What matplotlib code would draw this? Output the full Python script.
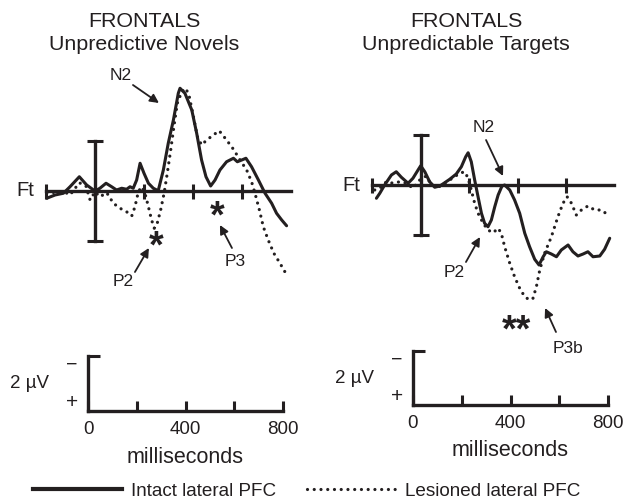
import matplotlib
matplotlib.use('Agg')
import matplotlib.pyplot as plt
from matplotlib.lines import Line2D

plt.rcParams['font.family'] = ['Liberation Sans', 'DejaVu Sans']

INK = '#231f20'

# ERP traces, time in ms, amplitude in microvolts (negative plotted up)
novel_t_intact = [-197, -163, -129, -102, -64, -34, 0, 20, 45, 68, 88, 109, 129, 143, 156, 170, 184, 200,
                  218, 238, 258, 279, 299, 320, 340, 347, 367, 395, 415, 435, 453, 472, 490, 510, 537,
                  565, 581, 599, 616, 639, 667, 694, 721, 741, 762, 782]
novel_v_intact = [0.29, 0.16, 0.09, -0.17, -0.57, -0.24, 0.0, -0.11, -0.31, -0.17, -0.04, -0.11, -0.07,
                  -0.17, -0.11, -0.44, -1.11, -0.71, -0.31, -0.11, -0.01, -0.84, -1.91, -2.84, -3.91,
                  -4.11, -3.91, -3.24, -2.31, -1.24, -0.57, -0.2, -0.44, -0.84, -1.17, -1.31, -1.17,
                  -1.24, -1.31, -0.97, -0.44, 0.09, 0.49, 0.89, 1.16, 1.39]
novel_t_lesion = [-197, -163, -122, -102, -64, -37, -20, 0, 20, 48, 75, 102, 129, 150, 163, 177, 190, 204,
                  218, 231, 242, 254, 268, 282, 295, 309, 322, 336, 354, 371, 385, 399, 418, 435, 456,
                  483, 507, 537, 565, 592, 619, 639, 653, 671, 687, 707, 730, 755, 775]
novel_v_lesion = [0.09, 0.05, 0.05, 0.16, -0.33, -0.2, 0.36, 0.03, 0.23, 0.07, 0.49, 0.69, 0.83, 1.0,
                  0.63, 0.03, -0.17, 0.09, 0.63, 1.16, 1.49, 1.29, 0.76, 0.09, -0.71, -1.64, -2.57,
                  -3.51, -3.97, -4.11, -3.77, -3.11, -2.17, -1.84, -2.04, -2.24, -2.41, -2.04, -1.67,
                  -1.24, -0.84, -0.37, 0.09, 0.76, 1.43, 1.96, 2.49, 2.89, 3.23]

target_t_intact = [-183, -169, -149, -121, -101, -80, -52, -32, -11, 0, 17, 37, 58, 79, 99, 120, 147, 168,
                   186, 196, 209, 223, 237, 251, 264, 278, 292, 306, 320, 336, 347, 368, 388, 409, 430,
                   450, 471, 489, 506, 519, 540, 561, 581, 609, 629, 650, 671, 691, 712, 740, 760, 781]
target_v_intact = [0.53, 0.33, 0.0, -0.4, -0.53, -0.31, -0.07, -0.27, -0.6, -0.77, -0.53, -0.13, 0.09,
                   0.04, -0.09, -0.23, -0.44, -0.73, -1.13, -1.29, -0.93, -0.2, 0.47, 1.13, 1.53, 1.67,
                   1.4, 0.87, 0.4, 0.04, 0.0, 0.2, 0.6, 1.13, 1.93, 2.47, 2.97, 3.2, 2.87, 2.67, 2.76,
                   2.87, 2.6, 2.4, 2.67, 2.84, 2.76, 2.67, 2.87, 2.84, 2.57, 2.13]
target_t_lesion = [-190, -169, -142, -114, -87, -59, -32, -4, 23, 44, 72, 99, 120, 140, 161, 182, 196, 209,
                   223, 237, 258, 278, 299, 320, 333, 347, 368, 388, 409, 430, 450, 464, 478, 492, 512,
                   540, 567, 588, 605, 623, 643, 664, 691, 719, 747, 774]
target_v_lesion = [0.2, 0.13, -0.13, -0.07, -0.13, -0.07, 0.13, -0.2, -0.36, 0.0, 0.09, -0.07, -0.2,
                   -0.33, -0.47, -0.53, -0.27, 0.2, 0.73, 1.13, 1.53, 1.8, 1.91, 1.73, 1.93, 2.47, 3.13,
                   3.67, 4.13, 4.47, 4.6, 4.53, 4.07, 3.4, 2.73, 2.07, 1.27, 0.73, 0.47, 0.73, 1.2, 1.0,
                   0.84, 1.0, 1.0, 1.2]

titles = ['FRONTALS\nUnpredictive Novels', 'FRONTALS\nUnpredictable Targets']
calib_ticks = [0, 200, 400, 600, 800]
calib_labels = ['0', '', '400', '', '800']

W, H = 626, 499
fig = plt.figure(figsize=(W / 100, H / 100), dpi=100)


def axes_px(x0, x1, y0, y1, ox, oy, sx, sy):
    # axes over a pixel box; (ox, oy) is the data origin, sx px/ms, sy px/uV
    ax = fig.add_axes([x0 / W, 1 - y1 / H, (x1 - x0) / W, (y1 - y0) / H])
    ax.set_xlim((x0 - ox) / sx, (x1 - ox) / sx)
    ax.set_ylim((y1 - oy) / sy, (y0 - oy) / sy)
    ax.patch.set_visible(False)
    for s in ['top', 'right']:
        ax.spines[s].set_visible(False)
    return ax


def erp_panel(ax, t1, v1, t2, v2):
    ax.plot(t1, v1, color=INK, lw=2.2, solid_capstyle='round', solid_joinstyle='round')
    ax.plot(t2, v2, color=INK, lw=2.3, linestyle=(0, (0.01, 2.1)), dash_capstyle='round')
    ax.spines['bottom'].set_position(('data', 0))
    ax.spines['bottom'].set_bounds(-200, 800)
    ax.spines['left'].set_position(('data', 0))
    ax.spines['left'].set_bounds(-2, 2)
    for s in ['bottom', 'left']:
        ax.spines[s].set_linewidth(2.4)
        ax.spines[s].set_color(INK)
    ax.set_xticks([-200, 200, 400, 600])
    ax.set_yticks([-2, 2])
    ax.set_xticklabels([])
    ax.set_yticklabels([])
    ax.tick_params(axis='x', direction='inout', length=10.8, width=2.2, color=INK)
    ax.tick_params(axis='y', direction='inout', length=11.5, width=2.2, color=INK)
    ax.text(-285, 0, 'Ft', fontsize=14.5, color=INK, ha='center', va='center')


def calib_panel(ax):
    ax.spines['bottom'].set_position(('data', 0))
    ax.spines['bottom'].set_bounds(0, 800)
    ax.spines['left'].set_position(('data', 0))
    ax.spines['left'].set_bounds(-2, 0)
    for s in ['bottom', 'left']:
        ax.spines[s].set_linewidth(2.4)
        ax.spines[s].set_color(INK)
        ax.spines[s].set_capstyle('projecting')
    ax.set_xticks(calib_ticks)
    ax.set_xticklabels(calib_labels)
    ax.set_yticks([-2])
    ax.set_yticklabels([])
    ax.tick_params(axis='x', direction='in', length=7.5, width=2.2, color=INK,
                   labelsize=13.5, labelcolor=INK, pad=7)
    ax.tick_params(axis='y', direction='in', length=8.5, width=2.2, color=INK)
    ax.text(-65, -1.65, '\u2212', fontsize=14, color=INK, ha='center', va='center')
    ax.text(-65, -0.3, '+', fontsize=15, color=INK, ha='center', va='center')
    ax.text(-240, -1.0, '2 \u00b5V', fontsize=13.5, color=INK, ha='center', va='center')
    ax.text(400, 1.68, 'milliseconds', fontsize=15.5, color=INK, ha='center', va='center')


arrow = dict(arrowstyle='-|>', color=INK, lw=1.3, mutation_scale=13, shrinkA=0, shrinkB=0)
lab = dict(fontsize=12.5, color=INK, ha='center', va='center')
star = dict(fontsize=27, fontweight='bold', color=INK, ha='center', va='center')

# left panel: unpredictive novels
axl = axes_px(0, 313, 50, 350, 95, 191, 49 / 200, 25)
erp_panel(axl, novel_t_intact, novel_v_intact, novel_t_lesion, novel_v_lesion)
axl.text(106, -4.64, 'N2', **lab)
axl.annotate('', xy=(261, -3.52), xytext=(155, -4.24), arrowprops=arrow)
axl.text(114, 3.64, 'P2', **lab)
axl.annotate('', xy=(220, 2.28), xytext=(163, 3.24), arrowprops=arrow)
axl.text(571, 2.8, 'P3', **lab)
axl.annotate('', xy=(510, 1.36), xytext=(559, 2.28), arrowprops=arrow)
axl.text(249, 2.25, '*', **star)
axl.text(498, 1.05, '*', **star)

# right panel: unpredictable targets
axr = axes_px(313, 626, 50, 350, 420.7, 185, 48.4 / 200, 25)
erp_panel(axr, target_t_intact, target_v_intact, target_t_lesion, target_v_lesion)
axr.text(262, -2.32, 'N2', **lab)
axr.annotate('', xy=(340, -0.36), xytext=(270, -1.8), arrowprops=arrow)
axr.text(138, 3.48, 'P2', **lab)
axr.annotate('', xy=(245, 2.08), xytext=(187, 3.08), arrowprops=arrow)
axr.text(609, 6.52, 'P3b', **lab)
axr.annotate('', xy=(514, 4.92), xytext=(559, 5.88), arrowprops=arrow)
axr.text(394, 5.85, '**', **star)

# calibration axes
cal_l = axes_px(0, 313, 340, 470, 88, 411, 195 / 800, 27.5)
calib_panel(cal_l)
cal_r = axes_px(313, 626, 340, 470, 413, 405, 195 / 800, 27)
calib_panel(cal_r)

for cx, title in zip([144, 466], titles):
    fig.text(cx / W, 1 - 33 / H, title, fontsize=15.4, color=INK, ha='center', va='center',
             linespacing=1.25)

handles = [Line2D([], [], color=INK, lw=3.0),
           Line2D([], [], color=INK, lw=2.3, linestyle=(0, (0.01, 2.1)), dash_capstyle='round')]
fig.legend(handles, ['Intact lateral PFC', 'Lesioned lateral PFC'], loc='center left',
           bbox_to_anchor=(33 / W, 1 - 491 / H), ncol=2, frameon=False, fontsize=13.6,
           handlelength=4.7, handletextpad=0.5, columnspacing=1.6, borderpad=0,
           borderaxespad=0, labelcolor=INK)

fig.savefig('out.png', dpi=100)
